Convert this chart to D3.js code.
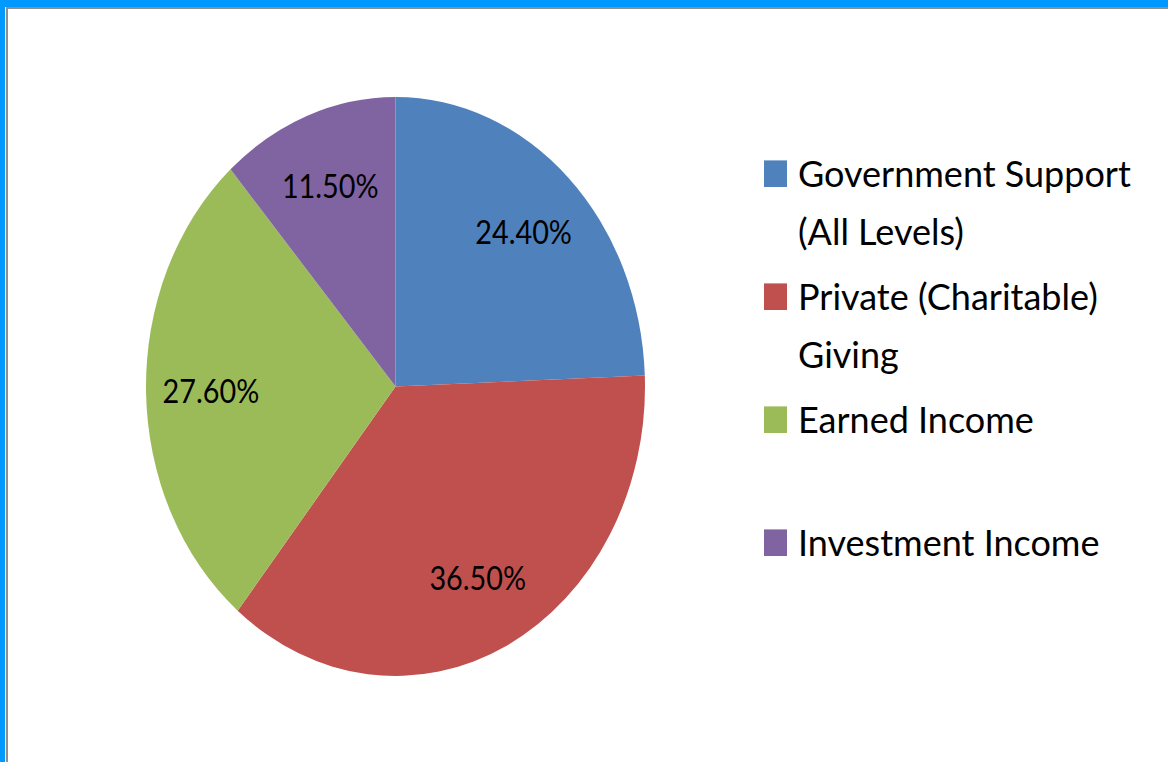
<!DOCTYPE html>
<html>
<head>
<meta charset="utf-8">
<script src="https://cdn.jsdelivr.net/npm/d3@7/dist/d3.min.js"></script>
<style>
  html, body { margin: 0; padding: 0; background: #fff; }
  svg { display: block; }
</style>
</head>
<body>
<svg id="chart" width="1168" height="762"></svg>
<script>
// ---- Data ----
const categories = ["Government Support (All Levels)", "Private (Charitable) Giving", "Earned Income", "Investment Income"];
const legendLines = [["Government Support", "(All Levels)"], ["Private (Charitable)", "Giving"], ["Earned Income"], ["Investment Income"]];
const values = [24.4, 36.5, 27.6, 11.5];
const colors = ["#4F81BD", "#C0504D", "#9BBB59", "#8064A2"];

// ---- Layout ----
const W = 1168, H = 762;
const cx = 395.5, cy = 386.5;
const R = 249.5;          // horizontal radius
const sy = 289.5 / 249.5; // vertical stretch of the picture
const svg = d3.select("#chart");

// frame
svg.append("rect").attr("x", 0).attr("y", 0).attr("width", W).attr("height", 7).attr("fill", "#0099FF");
svg.append("rect").attr("x", 0).attr("y", 0).attr("width", 5).attr("height", H).attr("fill", "#0099FF");
svg.append("rect").attr("x", 6).attr("y", 7).attr("width", W - 6).attr("height", 2).attr("fill", "#8f8f8f");
svg.append("rect").attr("x", 6).attr("y", 7).attr("width", 2).attr("height", H - 7).attr("fill", "#8f8f8f");

const color = d3.scaleOrdinal().domain(categories).range(colors);

const pie = d3.pie().sort(null).value(d => d.value);
const data = categories.map((c, i) => ({ cat: c, value: values[i] }));
const arcs = pie(data);
const arc = d3.arc().innerRadius(0).outerRadius(R);

const g = svg.append("g").attr("transform", `translate(${cx},${cy}) scale(1,${sy})`);
g.selectAll("path").data(arcs).enter().append("path")
  .attr("d", arc)
  .attr("fill", d => color(d.data.cat));

// labels
const labelArc = d3.arc().innerRadius(R * 0.74).outerRadius(R * 0.74);
const fmt = d3.format(".2f");
const lg = svg.append("g").attr("transform", `translate(${cx},${cy})`);
lg.selectAll("text").data(arcs).enter().append("text")
  .attr("transform", d => {
    const [x, y] = labelArc.centroid(d);
    return `translate(${x},${y * sy + 12}) scale(0.86,1)`;
  })
  .attr("text-anchor", "middle")
  .attr("font-family", "Lato, 'Open Sans', sans-serif")
  .attr("font-size", 33.5)
  .attr("fill", "#000")
  .text(d => fmt(d.data.value) + "%");

// legend
const ly = d3.scalePoint().domain(categories).range([173.7, 542.7]);
const leg = svg.append("g");
const items = leg.selectAll("g").data(categories).enter().append("g")
  .attr("transform", c => `translate(764,${ly(c)})`);
items.append("rect")
  .attr("x", 0).attr("y", -13.3).attr("width", 23).attr("height", 26.6)
  .attr("fill", c => color(c));
items.each(function (c, i) {
  const t = d3.select(this).append("text")
    .attr("font-family", "Lato, 'Open Sans', sans-serif")
    .attr("font-size", 36)
    .attr("fill", "#000");
  legendLines[i].forEach((line, j) => {
    t.append("tspan").attr("x", 34).attr("y", 13.5 + j * 58).text(line);
  });
});
</script>
</body>
</html>
